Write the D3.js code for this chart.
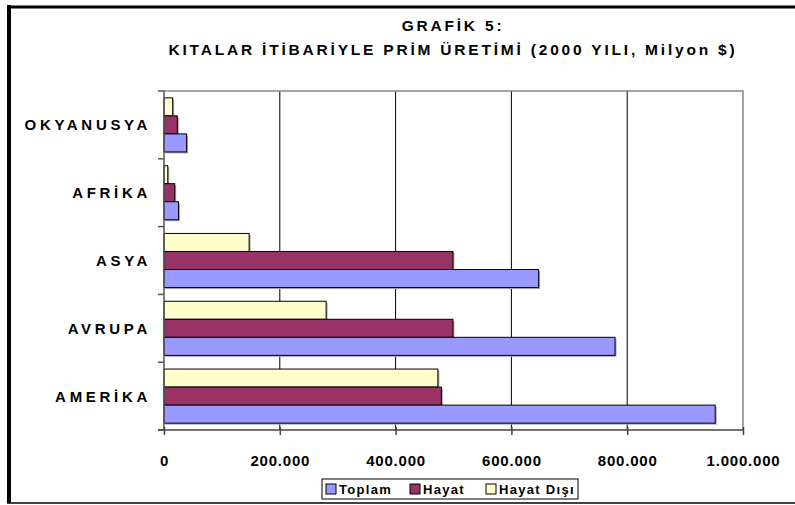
<!DOCTYPE html>
<html>
<head>
<meta charset="utf-8">
<script src="https://cdn.jsdelivr.net/npm/d3@7"></script>
<style>
  body { margin: 0; background: #fff; }
  svg { display: block; font-family: "Liberation Sans", Arial, sans-serif; font-weight: bold; }
</style>
</head>
<body>
<div class="container"></div>
<script>
const categories = ["OKYANUSYA", "AFRİKA", "ASYA", "AVRUPA", "AMERİKA"];
const seriesNames = ["Hayat Dışı", "Hayat", "Toplam"];
const toplam = [39000, 25000, 647000, 779000, 952000];
const hayat = [23000, 18500, 499000, 499000, 479000];
const hayatDisi = [15000, 6500, 147000, 280000, 473000];
const xTicks = [0, 200000, 400000, 600000, 800000, 1000000];
const legendNames = ["Toplam", "Hayat", "Hayat Dışı"];
const colors = { "Toplam": "#9999ff", "Hayat": "#993366", "Hayat Dışı": "#ffffcc" };

const width = 795;
const height = 505;
const plot = { left: 164, right: 743, top: 91, bottom: 430 };

const tr = d3.formatLocale({ decimal: ",", thousands: ".", grouping: [3], currency: ["", "$"] });
const fmt = tr.format(",d");

const rows = categories.map((c, i) => ({
  cat: c,
  values: { "Toplam": toplam[i], "Hayat": hayat[i], "Hayat Dışı": hayatDisi[i] }
}));

const svg = d3.select(".container").append("svg")
  .attr("width", width)
  .attr("height", height);

// outer frame
svg.append("line").attr("x1", 9).attr("x2", 9).attr("y1", 5).attr("y2", 503)
  .attr("stroke", "#000").attr("stroke-width", 4);
svg.append("line").attr("x1", 7).attr("x2", width).attr("y1", 7).attr("y2", 7)
  .attr("stroke", "#000").attr("stroke-width", 3);
svg.append("line").attr("x1", 7).attr("x2", width).attr("y1", 503).attr("y2", 503)
  .attr("stroke", "#000").attr("stroke-width", 1.5);

// title
const title = svg.append("text")
  .attr("text-anchor", "middle")
  .attr("font-size", 15.5)
  .attr("letter-spacing", 2.8);
title.append("tspan").attr("x", 453).attr("y", 31).text("GRAFİK 5:");
title.append("tspan").attr("x", 453).attr("y", 55).text("KITALAR İTİBARİYLE PRİM ÜRETİMİ (2000 YILI, Milyon $)");

const x = d3.scaleLinear().domain([0, 1000000]).range([plot.left, plot.right]);
const y = d3.scaleBand().domain(categories).range([plot.top, plot.bottom]).padding(0);
const ySub = d3.scaleBand().domain(seriesNames).range([0, y.bandwidth()])
  .paddingInner(0).paddingOuter(0.38);

// gridlines
svg.append("g").selectAll("line")
  .data(xTicks.slice(1, -1))
  .join("line")
  .attr("x1", d => x(d)).attr("x2", d => x(d))
  .attr("y1", plot.top).attr("y2", plot.bottom)
  .attr("stroke", "#000").attr("stroke-width", 1);

// plot border top / right
svg.append("path")
  .attr("d", `M${plot.left},${plot.top}H${plot.right}V${plot.bottom}`)
  .attr("fill", "none").attr("stroke", "#888").attr("stroke-width", 1.5);

// bars
const groups = svg.append("g").selectAll("g")
  .data(rows)
  .join("g")
  .attr("transform", d => `translate(0,${y(d.cat)})`);

groups.selectAll("rect.shadow")
  .data(d => seriesNames.map(s => ({ s, v: d.values[s] })))
  .join("rect")
  .attr("class", "shadow")
  .attr("x", x(0) + 1.5)
  .attr("y", d => ySub(d.s) + 1.5)
  .attr("width", d => x(d.v) - x(0))
  .attr("height", ySub.bandwidth())
  .attr("fill", "#a8a8a8");

groups.selectAll("rect.bar")
  .data(d => seriesNames.map(s => ({ s, v: d.values[s] })))
  .join("rect")
  .attr("class", "bar")
  .attr("x", x(0))
  .attr("y", d => ySub(d.s))
  .attr("width", d => x(d.v) - x(0))
  .attr("height", ySub.bandwidth())
  .attr("fill", d => colors[d.s])
  .attr("stroke", "#000")
  .attr("stroke-width", 1);

// y axis line + ticks at category boundaries
const yEdges = categories.map(c => y(c)).concat([y(categories[categories.length - 1]) + y.step()]);
svg.append("line")
  .attr("x1", plot.left).attr("x2", plot.left)
  .attr("y1", plot.top).attr("y2", plot.bottom)
  .attr("stroke", "#555").attr("stroke-width", 1.5);
svg.append("g").selectAll("line")
  .data(yEdges)
  .join("line")
  .attr("x1", plot.left - 6).attr("x2", plot.left)
  .attr("y1", d => d).attr("y2", d => d)
  .attr("stroke", "#555").attr("stroke-width", 1.5);

// category labels
svg.append("g").selectAll("text")
  .data(categories)
  .join("text")
  .attr("x", 151)
  .attr("y", d => y(d) + y.bandwidth() / 2 + 5.5)
  .attr("text-anchor", "end")
  .attr("font-size", 15)
  .attr("letter-spacing", 3.7)
  .text(d => d);

// x axis
const xAxis = d3.axisBottom(x).tickValues(xTicks).tickFormat(fmt).tickSize(5).tickSizeOuter(0);
const gx = svg.append("g")
  .attr("transform", `translate(0,${plot.bottom})`)
  .call(xAxis);
gx.select(".domain").attr("stroke", "#444").attr("stroke-width", 1.5)
  .attr("d", `M${plot.left - 6},0H${plot.right}`);
gx.selectAll(".tick line").attr("stroke", "#444").attr("stroke-width", 1.5).attr("y1", -3);
gx.selectAll(".tick text")
  .attr("y", 25)
  .attr("fill", "#000")
  .attr("font-family", "Liberation Sans, Arial, sans-serif")
  .attr("font-weight", "bold")
  .attr("font-size", 15)
  .attr("letter-spacing", 0.8);

// legend
const legend = svg.append("g");
legend.append("rect")
  .attr("x", 322).attr("y", 479).attr("width", 256).attr("height", 20)
  .attr("fill", "#fff").attr("stroke", "#000").attr("stroke-width", 1);
const legendX = [326, 410, 486];
const items = legend.selectAll("g")
  .data(legendNames)
  .join("g")
  .attr("transform", (d, i) => `translate(${legendX[i]},484)`);
items.append("rect")
  .attr("width", 10).attr("height", 10)
  .attr("fill", d => colors[d]).attr("stroke", "#000").attr("stroke-width", 1);
items.append("text")
  .attr("x", 13).attr("y", 10)
  .attr("font-size", 13)
  .attr("letter-spacing", 1.3)
  .text(d => d);
</script>
</body>
</html>
